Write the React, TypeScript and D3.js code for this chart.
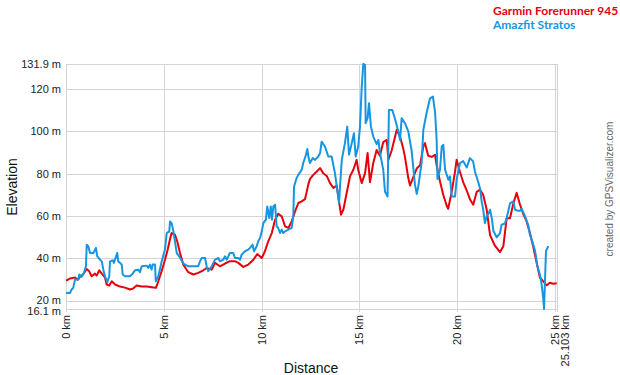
import React from 'react';
import * as d3 from 'd3';

// Elevation profiles, [distance km, elevation m]
const garmin: [number, number][] = [
  [0, 29.5], [0.2, 30.5], [0.46, 31], [0.61, 30], [0.72, 31.4], [0.87, 32.4], [1.06, 35], [1.18, 34],
  [1.31, 31.6], [1.48, 32.8], [1.57, 31.9], [1.7, 34.4], [1.83, 32.8], [1.99, 31], [2.08, 27.7], [2.21, 27.2],
  [2.34, 29.2], [2.51, 27.7], [2.76, 26.7], [3.02, 26.2], [3.27, 25.3], [3.43, 25.8], [3.61, 27.2], [3.87, 26.7],
  [4.13, 26.7], [4.38, 26.4], [4.6, 26.1], [4.72, 29.2], [4.89, 34], [5.06, 39.4], [5.2, 44.2], [5.32, 49.2],
  [5.4, 52], [5.57, 51.2], [5.69, 48], [5.83, 42.6], [6.0, 37], [6.25, 33.5], [6.51, 32.4], [6.76, 33.2],
  [7.02, 34.4], [7.19, 35.5], [7.45, 34.7], [7.62, 37.9], [7.87, 36.3], [8.13, 37.6], [8.38, 38.7], [8.64, 38.7],
  [8.81, 37.9], [9.06, 36], [9.32, 37.1], [9.58, 39.4], [9.78, 42.1], [10.01, 40.2], [10.17, 43.4], [10.34, 48.1],
  [10.52, 52], [10.69, 58.3], [10.85, 61.1], [11.03, 59.9], [11.2, 55.2], [11.37, 54.4], [11.54, 57.5], [11.71, 62.2],
  [11.88, 66.2], [12.05, 67], [12.22, 68], [12.39, 75], [12.47, 77.5], [12.64, 79.5], [12.82, 81.1], [12.99, 82.7],
  [13.15, 80.3], [13.33, 79], [13.5, 75.6], [13.67, 73.3], [13.84, 74.5], [13.92, 69.3], [14.06, 60.7], [14.18, 63],
  [14.35, 70.9], [14.52, 78.8], [14.69, 81.9], [14.86, 86.6], [14.94, 81.9], [15.12, 75.6], [15.29, 80.3], [15.42, 89.8],
  [15.54, 76], [15.71, 85.1], [15.88, 91.3], [16.05, 88.5], [16.22, 95], [16.4, 96], [16.48, 86.6], [16.65, 91],
  [16.91, 100.8], [17.08, 97.5], [17.24, 92], [17.33, 88], [17.5, 78], [17.59, 74.5], [17.76, 78.5], [17.93, 82.5],
  [18.1, 84], [18.27, 93], [18.35, 94.5], [18.52, 88.5], [18.7, 88], [18.87, 89], [18.95, 84], [19.12, 76.5],
  [19.29, 70], [19.46, 65], [19.54, 63.5], [19.72, 71.5], [19.89, 81], [19.97, 86.6], [20.14, 81], [20.31, 76],
  [20.49, 72], [20.65, 68], [20.82, 65.4], [21.0, 71.5], [21.17, 72.5], [21.33, 70], [21.51, 63], [21.68, 51],
  [21.93, 46], [22.19, 43], [22.36, 45.8], [22.53, 59], [22.7, 59], [22.87, 66], [23.04, 71], [23.21, 65.5],
  [23.38, 61], [23.55, 57.5], [23.72, 52], [23.89, 45.5], [24.06, 38], [24.23, 31], [24.4, 29.2], [24.58, 27.3],
  [24.74, 28.5], [24.91, 28], [25.09, 28.3],
];

const amazfit: [number, number][] = [
  [0, 23.7], [0.2, 23.7], [0.29, 25.3], [0.37, 26.1], [0.46, 30], [0.63, 30], [0.68, 32.4], [0.8, 31.3],
  [0.92, 33.2], [1.02, 36.3], [1.06, 46.5], [1.14, 45.7], [1.23, 42.6], [1.4, 42.6], [1.53, 45], [1.6, 41],
  [1.74, 39.4], [1.83, 38.6], [1.91, 34.7], [1.99, 31.6], [2.11, 28.8], [2.21, 31.6], [2.25, 38.6], [2.39, 39.1],
  [2.45, 37.9], [2.56, 41], [2.62, 42.6], [2.67, 38.6], [2.76, 37.9], [2.85, 37.1], [2.9, 32.4], [3.02, 31.6],
  [3.27, 31.6], [3.41, 32.8], [3.53, 34.4], [3.7, 34.7], [3.78, 33.5], [3.87, 36.3], [4.13, 36.6], [4.21, 35.5],
  [4.29, 37.1], [4.38, 34.7], [4.43, 37.1], [4.55, 37.1], [4.59, 29.2], [4.72, 31.6], [4.89, 38.6], [5.06, 44.2],
  [5.15, 52], [5.28, 52.8], [5.32, 57.5], [5.4, 56.7], [5.49, 52.8], [5.57, 48.1], [5.66, 42.6], [5.83, 40.3],
  [6.0, 37.6], [6.25, 36.3], [6.76, 36.3], [6.85, 38.6], [6.94, 40.2], [7.11, 40.2], [7.19, 36.3], [7.27, 34],
  [7.45, 36.3], [7.53, 37.9], [7.62, 39.4], [7.79, 40.2], [7.87, 38.6], [8.04, 39.4], [8.13, 41], [8.22, 39.4],
  [8.38, 42.6], [8.55, 42.6], [8.64, 40.2], [8.81, 40.2], [8.9, 39.4], [8.98, 41.8], [9.15, 43.4], [9.32, 44.2],
  [9.41, 45], [9.54, 46.5], [9.61, 43.4], [9.75, 45.8], [9.83, 48.1], [9.92, 49.7], [10.01, 52.8], [10.09, 56.7],
  [10.22, 58.3], [10.29, 64.6], [10.39, 59.1], [10.47, 64.6], [10.53, 58.3], [10.6, 64.6], [10.69, 65.4], [10.77, 55.2],
  [10.85, 54.4], [10.94, 52], [11.03, 53.6], [11.11, 52], [11.2, 52.8], [11.54, 54.4], [11.62, 59.9], [11.66, 74],
  [11.79, 78], [11.88, 79.5], [12.05, 81.9], [12.13, 85.1], [12.27, 89], [12.34, 91.7], [12.39, 88.2], [12.47, 85.1],
  [12.61, 87.4], [12.73, 86.6], [12.9, 88.2], [12.99, 89.8], [13.07, 95.2], [13.24, 92.9], [13.41, 88.2], [13.58, 88.2],
  [13.75, 80.3], [13.89, 70.9], [13.96, 66.2], [14.01, 74], [14.1, 86.6], [14.26, 94.5], [14.38, 102.3], [14.47, 89],
  [14.61, 94.5], [14.72, 99.2], [14.81, 88.2], [14.94, 92.9], [15.03, 102.3], [15.12, 121.2], [15.2, 131.9], [15.29, 131.5],
  [15.32, 103.9], [15.42, 106.3], [15.49, 113.4], [15.59, 102.3], [15.71, 97.6], [15.88, 94], [15.97, 96], [16.05, 90],
  [16.22, 81.9], [16.31, 71.5], [16.44, 69.3], [16.51, 110.2], [16.68, 110.2], [16.82, 106], [16.99, 100], [17.08, 96],
  [17.16, 106.3], [17.33, 103.9], [17.5, 100], [17.67, 91], [17.84, 75], [17.93, 70.5], [18.01, 74], [18.18, 85],
  [18.27, 100.8], [18.44, 109], [18.61, 115.7], [18.76, 116.5], [18.87, 109], [18.95, 96], [18.99, 77.5], [19.12, 81.9],
  [19.21, 92.9], [19.29, 93.7], [19.38, 82], [19.55, 77.2], [19.63, 78.8], [19.72, 69.3], [19.89, 69.3], [19.97, 77.2],
  [20.14, 85.1], [20.31, 86], [20.49, 83], [20.65, 87.4], [20.81, 86], [20.91, 81], [21.08, 76], [21.17, 73],
  [21.25, 67], [21.33, 63], [21.42, 56.7], [21.51, 60], [21.59, 61], [21.68, 63], [21.77, 59], [21.85, 53],
  [22.02, 50], [22.19, 52], [22.27, 56], [22.44, 56.5], [22.53, 59.1], [22.7, 66], [22.87, 67], [22.96, 63],
  [23.13, 62.5], [23.21, 62.5], [23.3, 63.5], [23.47, 59.9], [23.64, 55.5], [23.72, 51], [23.81, 49], [23.98, 43.6],
  [24.1, 36.5], [24.23, 32.3], [24.32, 27.5], [24.4, 21], [24.44, 16.1], [24.54, 43.5], [24.66, 45.8],
];

const yTicks = [20, 40, 60, 80, 100, 120];
const xTicks = [0, 5, 10, 15, 20, 25];
const minElev = 16.1;
const maxElev = 131.9;
const totalKm = 25.103;

const series = [
  { name: 'Garmin Forerunner 945', color: '#e6000c', data: garmin },
  { name: 'Amazfit Stratos', color: '#1696e0', data: amazfit },
];

const W = 620;
const H = 375;
const left = 66;
const right = 557;
const top = 64;
const bottom = 309;
const font = '"Liberation Sans", Arial, sans-serif';

export default function App() {
  const x = d3.scaleLinear().domain([0, totalKm]).range([left, right]);
  const y = d3.scaleLinear().domain([minElev, maxElev]).range([bottom, top]);
  const line = d3.line<[number, number]>().x(d => x(d[0])).y(d => y(d[1]));
  const grid = '#d4d4d4';

  return (
    <svg width={W} height={H} style={{ position: 'absolute', left: 0, top: 0, background: '#fff' }}>
      <defs>
        <clipPath id="plot">
          <rect x={left} y={top - 1} width={right - left} height={bottom - top + 2} />
        </clipPath>
      </defs>
      {/* grid */}
      {yTicks.concat([minElev, maxElev]).map(t => (
        <line key={'h' + t} x1={left} x2={right} y1={Math.round(y(t)) + 0.5} y2={Math.round(y(t)) + 0.5} stroke={grid} />
      ))}
      {xTicks.concat([totalKm]).map(t => (
        <line key={'v' + t} y1={top} y2={bottom + 3} x1={Math.round(x(t)) + 0.5} x2={Math.round(x(t)) + 0.5} stroke={grid} />
      ))}
      {/* y labels */}
      {yTicks.map(t => (
        <text key={'yl' + t} x={61} y={y(t) - (t === 20 ? 1 : 0)} dy="0.35em" textAnchor="end" fontSize={11} fontFamily={font} fill="#222">
          {t} m
        </text>
      ))}
      <text x={61} y={y(maxElev)} dy="0.35em" textAnchor="end" fontSize={11} fontFamily={font} fill="#222">{maxElev} m</text>
      <text x={61} y={y(minElev) + 2} dy="0.35em" textAnchor="end" fontSize={11} fontFamily={font} fill="#222">{minElev} m</text>
      {/* x labels */}
      {xTicks.map(t => (
        <text key={'xl' + t} transform={`translate(${x(t) + 4},${bottom + 6}) rotate(-90)`} textAnchor="end"
          fontSize={11} fontFamily={font} fill="#222">{t} km</text>
      ))}
      <text transform={`translate(${x(totalKm) + 12},${bottom + 6}) rotate(-90)`} textAnchor="end"
        fontSize={11} fontFamily={font} fill="#222">{totalKm} km</text>
      {/* axis titles */}
      <text x={311} y={373} textAnchor="middle" fontSize={14} fontFamily={font} fill="#111">Distance</text>
      <text transform="translate(17,187) rotate(-90)" textAnchor="middle" fontSize={14} fontFamily={font} fill="#111">Elevation</text>
      <text transform="translate(613,189) rotate(-90)" textAnchor="middle" fontSize={10} fontFamily={font} fill="#666">
        created by GPSVisualizer.com
      </text>
      {/* lines */}
      <g clipPath="url(#plot)">
        {series.map(s => (
          <path key={s.name} d={line(s.data) || ''} fill="none" stroke={s.color} strokeWidth={2} strokeLinejoin="round" />
        ))}
      </g>
      {/* legend */}
      {series.map((s, i) => (
        <text key={'lg' + i} x={493} y={14.5 + i * 14.5} fontSize={12} fontWeight="bold" fontFamily='Lato, "Open Sans", sans-serif' fill={s.color}>
          {s.name}
        </text>
      ))}
    </svg>
  );
}
